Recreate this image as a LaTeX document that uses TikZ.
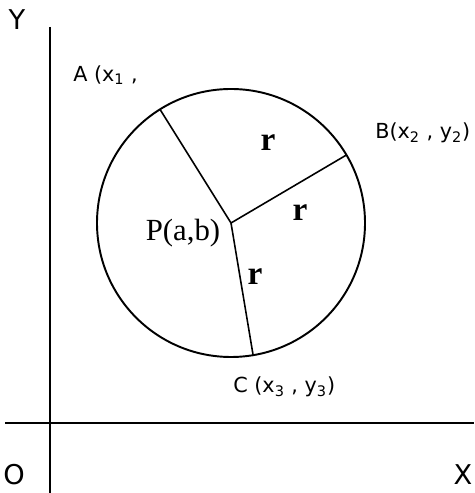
\documentclass[tikz,border=0pt]{standalone}
\usepackage{fontspec}
\setmainfont{Liberation Serif}
\newfontfamily\labelfont{DejaVu Sans}
\usepackage{tikz}
\usetikzlibrary{positioning}

\begin{document}
\begin{tikzpicture}[
x=0.02cm, y=0.02cm,
axis/.style={line width=1.1pt, black},
radius line/.style={line width=0.9pt, black},
axislabel/.style={font=\labelfont\fontsize{15.5}{18}\selectfont, inner sep=0pt},
ptlabel/.style={font=\labelfont\fontsize{11.8}{14}\selectfont, inner sep=0pt, anchor=west},
rlabel/.style={font=\fontsize{19}{22}\selectfont\bfseries, inner sep=0pt}
]
\useasboundingbox (0,0) rectangle (474,493);
% axes
\coordinate (ytop) at (50,466);
\coordinate (ybot) at (50,0);
\coordinate (xleft) at (5,70);
\coordinate (xright) at (474,70);
\draw[axis] (ytop) -- (ybot);
\draw[axis] (xleft) -- (xright);
\node[axislabel] (ylab) at (17,473) {Y};
\node[axislabel] (olab) at (14,18) {O};
\node[axislabel] (xlab) at (463,18) {X};
% circle and radii
\coordinate (P) at (231,270);
\draw[line width=1.1pt] (P) circle[radius=134];
\path (P) ++(122:134) coordinate (A);
\path (P) ++(30.5:134) coordinate (B);
\path (P) ++(-80.5:134) coordinate (C);
\draw[radius line] (P) -- (A);
\draw[radius line] (P) -- (B);
\draw[radius line] (P) -- (C);
\node[font=\fontsize{17.5}{20}\selectfont, inner sep=0pt] (plab) at (183,260) {P(a,b)};
\node[rlabel] (r1) at (268,350) {r};
\node[rlabel] (r2) at (300,280) {r};
\node[rlabel] (r3) at (255,216) {r};
% point labels
\node[ptlabel] (alab) at (73,418) {A (x\textsubscript{1} ,};
\node[ptlabel] (blab) at (375,360) {B(x\textsubscript{2} , y\textsubscript{2})};
\node[ptlabel] (clab) at (233,106) {C (x\textsubscript{3} , y\textsubscript{3})};
\end{tikzpicture}
\end{document}
